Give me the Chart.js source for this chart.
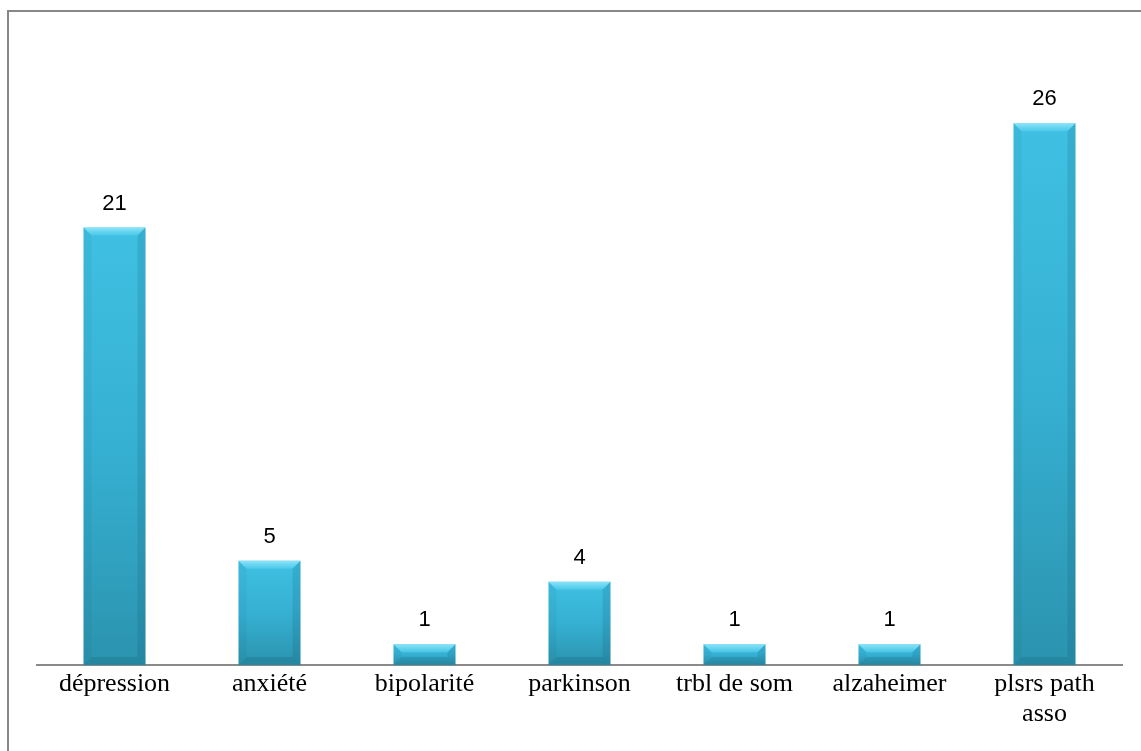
<!DOCTYPE html>
<html>
<head>
<meta charset="utf-8">
<script src="https://cdn.jsdelivr.net/npm/chart.js@4.4.1/dist/chart.umd.min.js"></script>
<style>
  html, body { margin: 0; padding: 0; background: #ffffff; }
  #wrap { width: 1141px; height: 751px; position: relative; }
</style>
</head>
<body>
<div id="wrap"><canvas id="chart" width="1141" height="751"></canvas></div>
<script>
// Categories and counts
const categories = [
  'dépression',
  'anxiété',
  'bipolarité',
  'parkinson',
  'trbl de som',
  'alzaheimer',
  ['plsrs path', 'asso']
];
const counts = [21, 5, 1, 4, 1, 1, 26];

// Value axis range (hidden)
const yMin = 0;
const yMax = 30;

// Page frame and white background
const framePlugin = {
  id: 'frame',
  beforeDraw(chart) {
    const c = chart.ctx;
    c.save();
    c.fillStyle = '#ffffff';
    c.fillRect(0, 0, chart.width, chart.height);
    c.strokeStyle = '#878787';
    c.lineWidth = 2;
    c.strokeRect(8, 11, chart.width + 20, chart.height + 20);
    c.restore();
  }
};

// Bevel highlights on each bar plus value labels above
const bevelPlugin = {
  id: 'bevel',
  afterDatasetsDraw(chart) {
    const c = chart.ctx;
    const meta = chart.getDatasetMeta(0);
    c.save();
    meta.data.forEach((el, i) => {
      const p = el.getProps(['x', 'y', 'base', 'width'], true);
      const l = p.x - p.width / 2, r = p.x + p.width / 2;
      const t = Math.min(p.y, p.base), b = Math.max(p.y, p.base);
      const bv = Math.min(8, (b - t) / 2);

      // top face
      c.beginPath();
      c.moveTo(l, t); c.lineTo(r, t); c.lineTo(r - bv, t + bv); c.lineTo(l + bv, t + bv); c.closePath();
      const tg = c.createLinearGradient(0, t, 0, t + bv);
      tg.addColorStop(0, 'rgba(150,232,252,0.9)');
      tg.addColorStop(1, 'rgba(80,205,238,0.7)');
      c.fillStyle = tg; c.fill();

      // left face
      c.beginPath();
      c.moveTo(l, t); c.lineTo(l + bv, t + bv); c.lineTo(l + bv, b - bv); c.lineTo(l, b); c.closePath();
      c.fillStyle = 'rgba(0,60,80,0.05)'; c.fill();

      // right face
      c.beginPath();
      c.moveTo(r, t); c.lineTo(r - bv, t + bv); c.lineTo(r - bv, b - bv); c.lineTo(r, b); c.closePath();
      c.fillStyle = 'rgba(0,50,70,0.12)'; c.fill();

      // bottom face
      c.beginPath();
      c.moveTo(l, b); c.lineTo(l + bv, b - bv); c.lineTo(r - bv, b - bv); c.lineTo(r, b); c.closePath();
      c.fillStyle = 'rgba(0,40,60,0.12)'; c.fill();

      // value label
      c.fillStyle = '#000000';
      c.font = '22px "Liberation Sans", Arial, sans-serif';
      c.textAlign = 'center';
      c.textBaseline = 'alphabetic';
      c.fillText(String(counts[i]), p.x, t - 18);
    });
    c.restore();
  }
};

function barFill(ctx) {
  const chart = ctx.chart;
  if (!chart.chartArea || ctx.raw === undefined) return '#36aed0';
  const ys = chart.scales.y;
  const top = ys.getPixelForValue(ctx.raw);
  const bottom = ys.getPixelForValue(0);
  const g = chart.ctx.createLinearGradient(0, top, 0, bottom);
  g.addColorStop(0, '#3fc0e2');
  g.addColorStop(0.5, '#36b0d2');
  g.addColorStop(1, '#2b93ae');
  return g;
}

new Chart(document.getElementById('chart'), {
  type: 'bar',
  data: {
    labels: categories,
    datasets: [{
      data: counts,
      backgroundColor: barFill,
      borderWidth: 0,
      categoryPercentage: 1.0,
      barPercentage: 0.4
    }]
  },
  options: {
    responsive: false,
    animation: false,
    devicePixelRatio: 1,
    layout: { padding: { left: 37, right: 19, top: 40, bottom: 0 } },
    plugins: {
      legend: { display: false },
      tooltip: { enabled: false }
    },
    scales: {
      x: {
        grid: { display: false, drawTicks: false },
        border: { display: true, color: '#8a8a8a', width: 2 },
        ticks: {
          color: '#000000',
          font: { family: '"Liberation Serif", "Times New Roman", serif', size: 26, lineHeight: 1.15 },
          padding: 4,
          maxRotation: 0,
          autoSkip: false
        },
        afterFit(scale) { scale.height = 86; }
      },
      y: {
        display: false,
        min: yMin,
        max: yMax
      }
    }
  },
  plugins: [framePlugin, bevelPlugin]
});
</script>
</body>
</html>
